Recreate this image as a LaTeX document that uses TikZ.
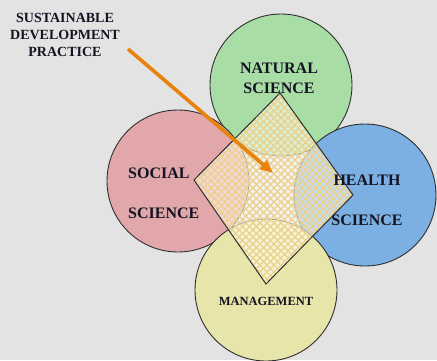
\documentclass[tikz,border=0pt]{standalone}
\usepackage{fontspec}
\setmainfont{Liberation Serif}
\usepackage{xcolor}
\usepackage{tikz}
\usetikzlibrary{arrows.meta}
\definecolor{bg}{HTML}{E3E3E3}
\definecolor{ink}{HTML}{141422}
\definecolor{edge}{HTML}{2E2E2E}
\definecolor{natfill}{HTML}{A9DDA6}
\definecolor{socfill}{HTML}{E2A7AB}
\definecolor{hltfill}{HTML}{7DB0E2}
\definecolor{mgtfill}{HTML}{E7E5A9}
\definecolor{hatchcol}{HTML}{EDD088}
\definecolor{arrowcol}{HTML}{E8820C}
\tikzset{
  circ/.style={circle, draw=edge, line width=0.9pt, minimum size=142pt, inner sep=0pt},
  lab/.style={text=ink, font=\bfseries\fontsize{16}{18}\selectfont, align=center, inner sep=0pt},
  labs/.style={text=ink, font=\bfseries\fontsize{12.5}{14}\selectfont, inner sep=0pt},
  title/.style={text=ink, font=\bfseries\fontsize{14}{17}\selectfont, align=center, inner sep=0pt},
  hatch/.style={draw=hatchcol, line width=1.2pt},
  rim/.style={draw=edge, line width=1pt, line join=miter},
  pointer/.style={draw=arrowcol, line width=3.6pt, -{Triangle[length=13pt,width=11pt]}},
}
\begin{document}
\begin{tikzpicture}[x=1pt,y=-1pt]
  \fill[bg] (0,0) rectangle (437,360);
  \useasboundingbox (0,0) rectangle (437,360);

  % the four fields
  \node[circ, fill=natfill] (natural) at (281,85) {};
  \node[circ, fill=socfill] (social) at (178,181) {};
  \node[circ, fill=hltfill] (health) at (365,195) {};
  \node[circ, fill=mgtfill] (manage) at (266,290) {};

  % diamond in the middle
  \coordinate (dtop) at (280,93);
  \coordinate (dright) at (353,195);
  \coordinate (dbottom) at (266,284);
  \coordinate (dleft) at (194,180);
  \fill[white, opacity=0.55] (dtop) -- (dright) -- (dbottom) -- (dleft) -- cycle;
  \begin{scope}
    \clip (dtop) -- (dright) -- (dbottom) -- (dleft) -- cycle;
    \foreach \k in {-110,-103,...,280} \draw[hatch] (\k,0) -- ++(400,400);
    \foreach \k in {350,357,...,580} \draw[hatch] (\k,0) -- ++(-400,400);
  \end{scope}
  \draw[rim] (dtop) -- (dright) -- (dbottom) -- (dleft) -- cycle;

  % labels
  \node[lab] (natlab) at (279,78) {NATURAL\\[2pt]SCIENCE};
  \node[lab, align=left, anchor=west] (soclab) at (128,193.5) {SOCIAL\\[22pt]SCIENCE};
  \node[lab] (hltlab) at (367,200) {HEALTH\\[22pt]SCIENCE};
  \node[labs] (mgtlab) at (266,301) {MANAGEMENT};
  \node[title] (sdp) at (65,35) {SUSTAINABLE\\DEVELOPMENT\\PRACTICE};

  \coordinate (tail) at (128,49);
  \coordinate (tip) at (273,173);
  \draw[pointer] (tail) -- (tip);
\end{tikzpicture}
\end{document}
